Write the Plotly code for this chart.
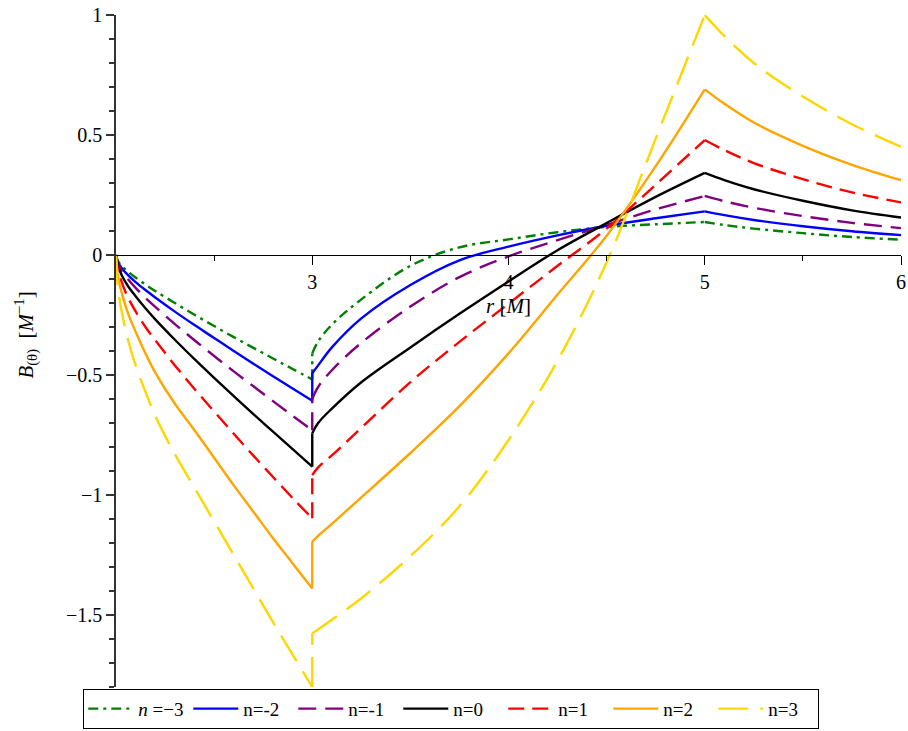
import plotly.graph_objects as go

# radial coordinate samples (r = 3 appears twice: left and right limit of the jump)
r_vals = [2.0, 2.01, 2.03, 2.06, 2.1, 2.15, 2.2, 2.3, 2.4, 2.5, 2.6, 2.7, 2.8, 2.9, 3.0,
          3.0, 3.03, 3.1, 3.25, 3.5, 3.75, 4.0, 4.25, 4.5, 4.75, 5.0,
          5.1, 5.25, 5.5, 5.75, 6.0]

B_m3 = [0, -0.025, -0.046, -0.069, -0.094, -0.123, -0.150, -0.200, -0.249, -0.296, -0.342, -0.387, -0.431, -0.475, -0.518,
        -0.410, -0.360, -0.290, -0.185, -0.045, 0.032, 0.065, 0.095, 0.117, 0.128, 0.1375,
        0.125, 0.110, 0.091, 0.075, 0.064]
B_m2 = [0, -0.030, -0.055, -0.083, -0.113, -0.146, -0.177, -0.236, -0.292, -0.346, -0.400, -0.453, -0.505, -0.556, -0.607,
        -0.493, -0.460, -0.385, -0.264, -0.125, -0.022, 0.035, 0.082, 0.122, 0.153, 0.182,
        0.166, 0.146, 0.120, 0.099, 0.083]
B_m1 = [0, -0.035, -0.067, -0.100, -0.137, -0.178, -0.216, -0.288, -0.355, -0.421, -0.485, -0.547, -0.609, -0.670, -0.730,
        -0.600, -0.550, -0.480, -0.366, -0.215, -0.092, -0.006, 0.062, 0.125, 0.190, 0.246,
        0.224, 0.197, 0.162, 0.134, 0.112]
B_0 = [0, -0.045, -0.085, -0.128, -0.172, -0.222, -0.268, -0.353, -0.434, -0.512, -0.588, -0.663, -0.736, -0.809, -0.882,
       -0.743, -0.700, -0.640, -0.530, -0.385, -0.245, -0.110, 0.020, 0.133, 0.242, 0.342,
       0.312, 0.274, 0.226, 0.186, 0.156]
B_p1 = [0, -0.060, -0.115, -0.175, -0.235, -0.300, -0.355, -0.460, -0.558, -0.652, -0.745, -0.836, -0.925, -1.013, -1.097,
        -0.917, -0.885, -0.835, -0.720, -0.530, -0.362, -0.203, -0.045, 0.110, 0.293, 0.479,
        0.437, 0.383, 0.316, 0.261, 0.219]
B_p2 = [0, -0.090, -0.160, -0.240, -0.320, -0.410, -0.490, -0.620, -0.730, -0.845, -0.960, -1.070, -1.180, -1.285, -1.390,
        -1.194, -1.170, -1.120, -1.010, -0.825, -0.630, -0.410, -0.165, 0.080, 0.370, 0.690,
        0.630, 0.552, 0.455, 0.376, 0.312]
B_p3 = [0, -0.140, -0.240, -0.350, -0.460, -0.570, -0.670, -0.830, -0.970, -1.110, -1.250, -1.390, -1.530, -1.665, -1.800,
        -1.576, -1.560, -1.520, -1.430, -1.255, -1.047, -0.771, -0.440, -0.030, 0.485, 1.000,
        0.912, 0.800, 0.660, 0.545, 0.451]

names = ["<i>n</i> =\u22123", "n=-2", "n=-1", "n=0", "n=1", "n=2", "n=3"]
series = [B_m3, B_m2, B_m1, B_0, B_p1, B_p2, B_p3]
colors = ["#008000", "#0000FF", "#800080", "#000000", "#FF0000", "#FFA500", "#FFD700"]
dashes = ["10px,5px,3px,5px", "solid", "18px,9px", "solid", "16px,8px", "solid", "30px,12px"]

# pieces of each curve: left branch, jump at r=3, middle branch, right branch
pieces = [(0, 15, "spline"), (14, 16, "linear"), (15, 26, "spline"), (25, 31, "spline")]

FONT = "Liberation Serif, Times New Roman, serif"

fig = go.Figure()
for k, (nm, ys, c, d) in enumerate(zip(names, series, colors, dashes)):
    for j, (a, b, shape) in enumerate(pieces):
        fig.add_trace(go.Scatter(
            x=r_vals[a:b], y=ys[a:b], mode="lines", name=nm,
            legendgroup=f"g{k}", showlegend=(j == 0),
            line=dict(color=c, width=2.4, dash=d, shape=shape)))

fig.update_layout(
    width=908, height=731,
    margin=dict(l=116, r=7, t=15, b=44, autoexpand=False),
    plot_bgcolor="white", paper_bgcolor="white",
    font=dict(family=FONT, size=20, color="black"),
    legend=dict(orientation="h", xref="container", x=0.497, xanchor="center",
                yref="container", y=0.003, yanchor="bottom",
                bordercolor="black", borderwidth=1, bgcolor="white",
                font=dict(family=FONT, size=19), itemwidth=45,
                entrywidth=45, entrywidthmode="pixels",
                tracegroupgap=0),
    xaxis=dict(range=[2, 6], anchor="free", position=1.8 / 2.8,
               showline=True, linecolor="black", linewidth=1,
               ticks="outside", ticklen=9, tickcolor="black", tickwidth=1,
               tickvals=[3, 4, 5, 6], ticktext=["3", "4", "5", "6"],
               tickfont=dict(family=FONT, size=20),
               minor=dict(tickvals=[2.5, 3.5, 4.5, 5.5], ticklen=5, ticks="outside",
                          tickcolor="black"),
               showgrid=False, zeroline=False),
    yaxis=dict(range=[-1.8, 1.0], showline=True, linecolor="#333333", linewidth=1.5,
               ticks="outside", ticklen=8, tickcolor="#333333", tickwidth=1.5,
               tick0=0, dtick=0.5, tickfont=dict(family=FONT, size=20),
               minor=dict(dtick=0.1, ticklen=5, ticks="outside", tickcolor="#333333"),
               showgrid=False, zeroline=False),
    annotations=[
        dict(text="<i>r</i> [<i>M</i>]", xref="paper", yref="paper", x=0.5, y=0.567,
             xanchor="center", yanchor="middle", showarrow=False,
             font=dict(family=FONT, size=21)),
        dict(text="<i>B</i><sub>(\u03b8)</sub>  [<i>M</i><sup>\u22121</sup>]", xref="paper", yref="paper",
             x=-0.115, y=0.524, xanchor="center", yanchor="middle", showarrow=False,
             textangle=-90, font=dict(family=FONT, size=21)),
    ],
)

fig.write_html("out.html")
